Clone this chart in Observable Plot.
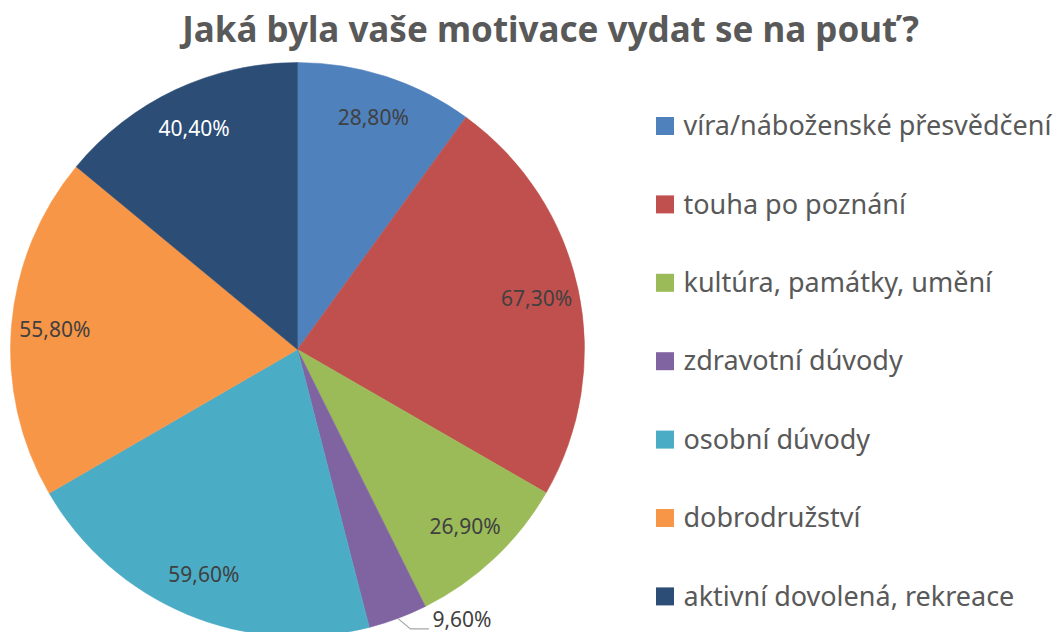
<!DOCTYPE html>
<html><head><meta charset="utf-8">
<script src="https://cdn.jsdelivr.net/npm/d3@7"></script>
<script src="https://cdn.jsdelivr.net/npm/@observablehq/plot@0.6"></script>
<style>body{margin:0;background:#fff} svg{display:block}</style>
</head><body><div id="chart"></div>
<script>
const title = "Jaká byla vaše motivace vydat se na pouť?";
const categories = [
  "víra/náboženské přesvědčení",
  "touha po poznání",
  "kultúra, památky, umění",
  "zdravotní dúvody",
  "osobní dúvody",
  "dobrodružství",
  "aktivní dovolená, rekreace"
];
const values = [28.8, 67.3, 26.9, 9.6, 59.6, 55.8, 40.4];
const colors = ["#4F81BD", "#C0504D", "#9BBB59", "#8064A2", "#4BACC6", "#F79646", "#2C4D75"];
const labelColors = ["#404040", "#404040", "#404040", "#404040", "#404040", "#404040", "#ffffff"];

const W = 1064, H = 632;
const CX = 297.5, CY = 349.5, R = 287;
const font = "'Noto Sans', 'Open Sans', sans-serif";
const fmt = v => v.toFixed(2).replace(".", ",") + "%";

const data = categories.map((c, i) => ({category: c, value: values[i], lc: labelColors[i], i}));
const arcs = d3.pie().sort(null).value(d => d.value).startAngle(0).endAngle(2 * Math.PI)(data);
arcs.forEach(a => {
  a.mid = (a.startAngle + a.endAngle) / 2;
  a.small = a.data.value < 15;
  const rl = R * 0.85;
  a.lx = CX + rl * Math.sin(a.mid);
  a.ly = CY - rl * Math.cos(a.mid);
  a.ex = CX + R * Math.sin(a.mid);
  a.ey = CY - R * Math.cos(a.mid);
});
const inside = arcs.filter(a => !a.small);
const outside = arcs.filter(a => a.small);
const leader = outside.flatMap(a => [
  {k: a.data.category, x: a.ex, y: a.ey},
  {k: a.data.category, x: a.ex + 12, y: a.ey + 10},
  {k: a.data.category, x: a.ex + 30, y: a.ey + 10}
]);

const legendTop = 126, legendStep = 78.4;
const legend = data.map(d => ({...d, cy: legendTop + d.i * legendStep}));

function wedges(index, scales) {
  const g = d3.create("svg:g");
  const cx = scales.x(CX), cy = scales.y(CY);
  const r = scales.x(CX + R) - cx;
  const arcGen = d3.arc().innerRadius(0).outerRadius(r);
  g.selectAll("path").data(arcs).join("path")
    .attr("transform", `translate(${cx},${cy})`)
    .attr("d", arcGen)
    .attr("fill", a => scales.color(a.data.category))
    .attr("stroke", a => scales.color(a.data.category))
    .attr("stroke-width", 0.5);
  return g.node();
}

const chart = Plot.plot({
  width: W, height: H, margin: 0,
  x: {domain: [0, W], range: [0, W], axis: null},
  y: {domain: [0, H], range: [0, H], axis: null},
  color: {domain: categories, range: colors},
  style: {fontFamily: font, background: "#fff"},
  marks: [
    wedges,
    Plot.text(inside, {x: "lx", y: "ly", text: a => fmt(a.data.value), fill: a => a.data.lc, fontSize: 21}),
    Plot.line(leader, {x: "x", y: "y", z: "k", stroke: "#a6a6a6", strokeWidth: 1.3}),
    Plot.text(outside, {x: a => a.ex + 34, y: a => a.ey + 1, text: a => fmt(a.data.value), fill: "#404040", fontSize: 21, textAnchor: "start"}),
    Plot.rect(legend, {x1: 656, x2: 674, y1: d => d.cy - 9, y2: d => d.cy + 9, fill: "category"}),
    Plot.text(legend, {x: 683, y: d => d.cy, text: "category", fill: "#595959", fontSize: 27, textAnchor: "start"}),
    Plot.text([title], {x: 550, y: 30, text: d => d, fill: "#595959", fontSize: 35, fontWeight: "bold"})
  ]
});
document.getElementById("chart").appendChild(chart);
</script>
</body></html>
